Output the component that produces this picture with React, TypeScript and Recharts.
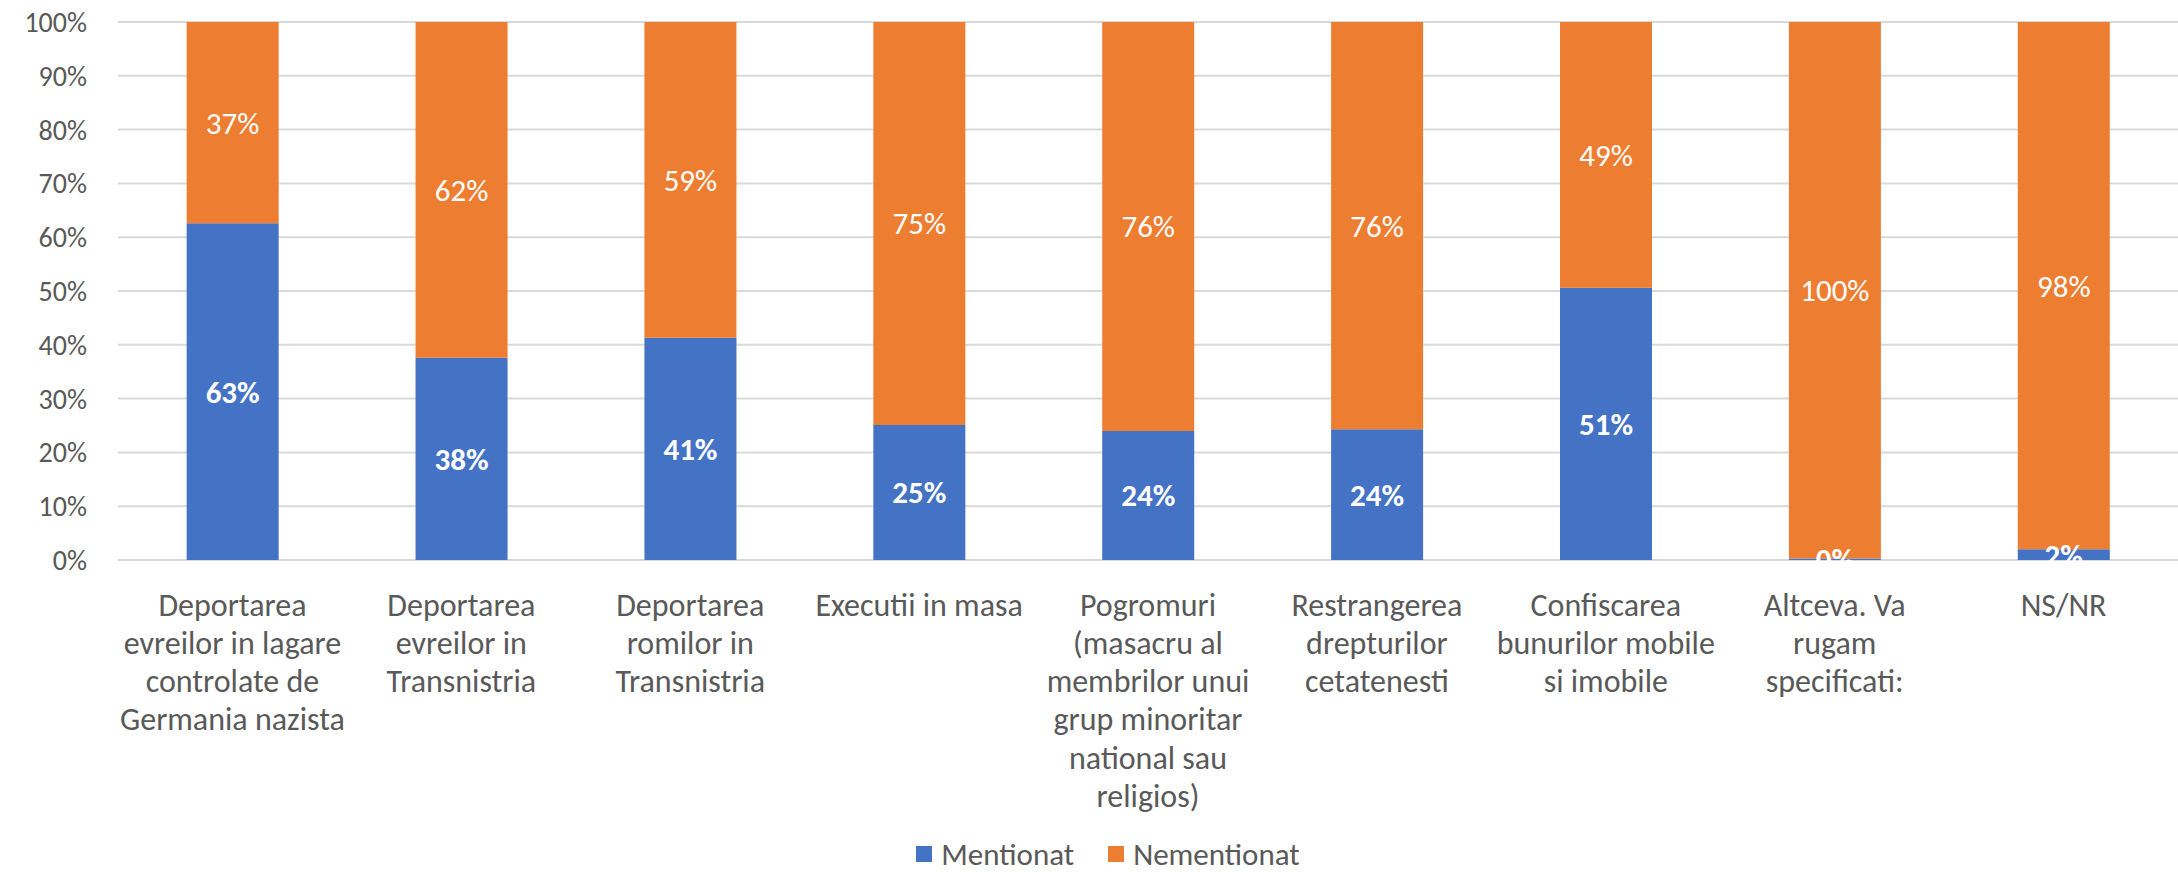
import React from 'react';
import { BarChart, Bar, XAxis, YAxis, CartesianGrid, Legend, LabelList } from 'recharts';

const categories = [
  'Deportarea evreilor in lagare controlate de Germania nazista',
  'Deportarea evreilor in Transnistria',
  'Deportarea romilor in Transnistria',
  'Executii in masa',
  'Pogromuri (masacru al membrilor unui grup minoritar national sau religios)',
  'Restrangerea drepturilor cetatenesti',
  'Confiscarea bunurilor mobile si imobile',
  'Altceva. Va rugam specificati:',
  'NS/NR',
];

const tickLines = [
  ['Deportarea', 'evreilor in lagare', 'controlate de', 'Germania nazista'],
  ['Deportarea', 'evreilor in', 'Transnistria'],
  ['Deportarea', 'romilor in', 'Transnistria'],
  ['Executii in masa'],
  ['Pogromuri', '(masacru al', 'membrilor unui', 'grup minoritar', 'national sau', 'religios)'],
  ['Restrangerea', 'drepturilor', 'cetatenesti'],
  ['Confiscarea', 'bunurilor mobile', 'si imobile'],
  ['Altceva. Va', 'rugam', 'specificati:'],
  ['NS/NR'],
];

const mentionat = [62.6, 37.6, 41.3, 25.1, 24.0, 24.3, 50.6, 0.3, 2.0];
const nementionat = [37.4, 62.4, 58.7, 74.9, 76.0, 75.7, 49.4, 99.7, 98.0];
const yTicks = [0, 10, 20, 30, 40, 50, 60, 70, 80, 90, 100];

const seriesNames = ['Mentionat', 'Nementionat'];
const seriesColors = ['#4472C4', '#ED7D31'];

const data = categories.map((c, i) => ({ name: c, m: mentionat[i], n: nementionat[i] }));

const FONT = "Calibri, Carlito, Lato, 'Open Sans', sans-serif";

const XTick = (props: any) => {
  const { x, y, payload } = props;
  const idx = categories.indexOf(payload.value);
  const lines = idx >= 0 ? tickLines[idx] : [payload.value];
  return (
    <g>
      {lines.map((l, i) => (
        <text
          key={i}
          x={x}
          y={y + 45 + i * 38.3}
          textAnchor="middle"
          dominantBaseline="central"
          fill="#595959"
          fontSize={32}
          fontFamily={FONT}
        >
          {l}
        </text>
      ))}
    </g>
  );
};

const LegendContent = () => (
  <div style={{ display: 'flex', justifyContent: 'center', alignItems: 'center', fontFamily: FONT, fontSize: 31, color: '#595959', lineHeight: '32px', paddingLeft: 38 }}>
    {seriesNames.map((s, i) => (
      <div key={s} style={{ display: 'flex', alignItems: 'center', marginRight: i === 0 ? 34 : 0 }}>
        <div style={{ width: 16, height: 16, background: seriesColors[i], marginRight: 9 }} />
        <span>{s}</span>
      </div>
    ))}
  </div>
);

export default function App() {
  return (
    <div style={{ position: 'absolute', left: 0, top: 0, width: 2178, height: 872, background: '#fff' }}>
      <BarChart
        width={2178}
        height={872}
        data={data}
        margin={{ top: 22, right: 0, bottom: 0, left: 0 }}
        barCategoryGap="30%"
      >
        <CartesianGrid vertical={false} stroke="#d9d9d9" strokeWidth={2} />
        <XAxis
          dataKey="name"
          height={312}
          interval={0}
          tickLine={false}
          axisLine={false}
          tickSize={0}
          tickMargin={0}
          tick={<XTick />}
        />
        <YAxis
          width={118}
          domain={[0, 100]}
          ticks={yTicks}
          tickFormatter={(v: number) => `${v}%`}
          axisLine={false}
          tickLine={false}
          tickSize={0}
          tickMargin={31}
          tick={{ fill: '#595959', fontSize: 28, fontFamily: FONT }}
          interval={0}
        />
        <Legend
          layout="horizontal"
          verticalAlign="middle"
          align="center"
          content={<LegendContent />}
          wrapperStyle={{ top: 838, left: 0, width: 2178 }}
        />
        <Bar dataKey="m" name={seriesNames[0]} stackId="a" fill={seriesColors[0]} isAnimationActive={false}>
          <LabelList
            dataKey="m"
            position="center"
            formatter={(v: number) => `${Math.round(v)}%`}
            fill="#ffffff"
            fontWeight="bold"
            fontSize={31}
            fontFamily={FONT}
          />
        </Bar>
        <Bar dataKey="n" name={seriesNames[1]} stackId="a" fill={seriesColors[1]} isAnimationActive={false}>
          <LabelList
            dataKey="n"
            position="center"
            formatter={(v: number) => `${Math.round(v)}%`}
            fill="#ffffff"
            fontSize={31}
            fontFamily={FONT}
          />
        </Bar>
      </BarChart>
    </div>
  );
}
